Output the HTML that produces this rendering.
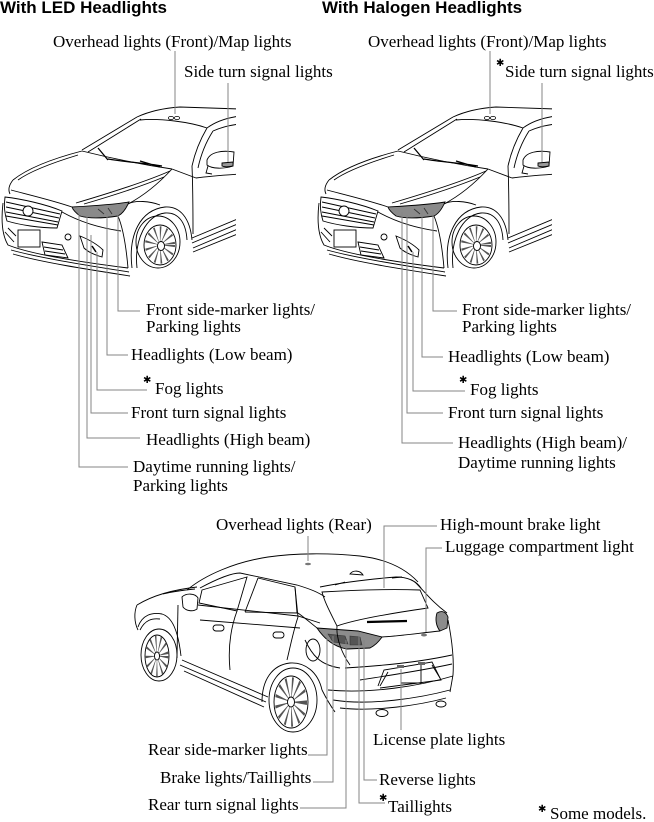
<!DOCTYPE html>
<html><head><meta charset="utf-8">
<style>
html,body{margin:0;padding:0;background:#fff;}
svg{display:block;}
.t{font-family:"Liberation Serif","Times New Roman",serif;font-size:17px;fill:#000;}
.h{font-family:"Liberation Sans",Arial,sans-serif;font-size:17px;font-weight:bold;fill:#000;}
.s{font-family:"DejaVu Sans",sans-serif;font-size:10px;fill:#000;}
.ld{stroke:#858585;stroke-width:1;fill:none;}
</style></head>
<body>
<svg width="654" height="822" viewBox="0 0 654 822" xmlns="http://www.w3.org/2000/svg">
<defs>
<clipPath id="cl"><rect x="0" y="90" width="236" height="200"/></clipPath>
<g id="fc">
 <g clip-path="url(#cl)" fill="none" stroke="#000" stroke-width="0.9">
  <!-- roof -->
  <path d="M137,117 C150,111 165,108 180,107 L240,109"/>
  <path d="M140,120 C160,118 190,122 207,128"/>
  <path d="M207,128 C215,122 225,118 240,116"/>
  <path d="M213,131 C222,127 230,125 240,124"/>
  <!-- A pillars -->
  <path d="M137,117 L82,150"/>
  <path d="M141,119 L88,152"/>
  <path d="M207,128 C200,140 195,152 192,166"/>
  <path d="M213,131 C206,142 201,154 198,168"/>
  <!-- cowl / wipers -->
  <path d="M82,151 C110,158 145,165 172,169"/>
  <path d="M98,148 L108,160 M108,159 C125,162 145,163 162,166 M140,161 L160,167" stroke-width="1.3"/>
  <!-- hood -->
  <path d="M82,151 C55,158 28,168 13,180"/>
  <path d="M78,155 C55,162 32,170 18,180"/>
  <path d="M13,180 C9,185 8,190 10,194"/>
  <path d="M11,190 C30,195 55,201 72,207"/>
  <path d="M170,171 C145,182 110,193 76,203"/>
  <path d="M164,177 C140,187 108,197 84,204"/>
  <path d="M172,169 C160,182 145,195 128,204"/>
  <!-- grille -->
  <path d="M5,197 C22,199 45,204 62,211 L57,228 C40,228 20,225 7,221 C4,212 4,204 5,197 Z"/>
  <path d="M6,202 L60,214 M6,207 L59,218 M6,212 L58,222 M6,216 L58,225"/>
  <circle cx="28" cy="211" r="5" fill="#fff"/>
  <!-- headlight -->
  <path d="M72,207 C90,206 110,205 129,202 C126,209 122,214 118,216 C105,218 90,219 80,216 C76,213 73,210 72,207 Z" fill="#8a8a8a"/>
  <path d="M98,209 L104,214 M108,208 L112,214" stroke="#333"/>
  <!-- bumper -->
  <path d="M3,203 C1,220 2,235 8,245 C30,254 80,262 128,268"/>
  <path d="M11,250 C40,258 85,265 129,272"/>
  <path d="M13,254 C40,262 85,269 130,276"/>
  <path d="M62,212 C80,222 100,228 121,231"/>
  <path d="M118,216 C123,228 126,245 128,268"/>
  <rect x="18" y="230" width="22" height="17"/>
  <path d="M8,228 L16,236 M5,232 L14,242"/>
  <path d="M42,242 L62,245 L68,258 L45,255 Z"/>
  <path d="M44,247 L63,250 M45,251 L65,254"/>
  <circle cx="68" cy="237" r="3"/>
  <path d="M80,236 C90,240 98,245 103,250 L102,257 C95,255 88,252 84,248 Z"/>
  <path d="M92,246 L96,252" stroke-width="1.5"/>
  <!-- fender arch -->
  <path d="M132,268 C128,235 140,210 165,207 C180,206 190,218 192,240"/>
  <path d="M137,268 C134,240 146,215 165,213 C178,212 186,222 187,240"/>
  <path d="M128,204 C135,200 150,201 160,205"/>
  <!-- wheel -->
  <ellipse cx="158" cy="242" rx="22" ry="26"/>
  <ellipse cx="160" cy="245" rx="16" ry="20"/>
  <g transform="translate(160,245) scale(1,1.25)">
   <circle r="7.5" stroke="#555" stroke-width="15" stroke-dasharray="0.9 2.6"/>
  </g>
  <ellipse cx="161" cy="246" rx="3.5" ry="4.5" fill="#fff"/>
  <!-- body side -->
  <path d="M192,238 L240,218 M192,243 L240,223 M193,248 L240,228 M193,252 L240,233"/>
  <path d="M192,166 C193,190 193,210 193,234"/>
  <path d="M196,178 C210,176 225,175 240,174"/>
  <path d="M172,169 C180,172 188,175 196,178"/>
  <!-- mirror -->
  <path d="M207,160 C210,152 222,150 234,152 L233,166 C224,169 212,169 207,165 Z" fill="#fff"/>
  <path d="M222,163 L233,162 L233,166 C228,167 224,167 222,166 Z" fill="#999"/>
  <path d="M208,166 L206,173 L212,174"/>
  <!-- overhead light -->
  <ellipse cx="171" cy="118" rx="2.6" ry="1.6" stroke-width="0.8"/>
  <ellipse cx="177" cy="118" rx="2.6" ry="1.6" stroke-width="0.8"/>
 </g>
</g>
</defs>

<!-- headings -->
<text class="h" x="0" y="13">With LED Headlights</text>
<text class="h" x="322" y="13">With Halogen Headlights</text>

<!-- front cars -->
<use href="#fc"/>
<use href="#fc" x="316"/>

<!-- LEFT labels -->
<text class="t" x="53" y="47">Overhead lights (Front)/Map lights</text>
<text class="t" x="184" y="77">Side turn signal lights</text>
<path class="ld" d="M175,51 V114 M228,83 V162"/>

<path class="ld" d="M118,210 V311 H140 M107,210 V355 H128 M97,252 V390 H147 M91,235 V413 H128 M87,215 V438 H140 M79,212 V467 H128"/>
<text class="t" x="146" y="315">Front side-marker lights/</text>
<text class="t" x="146" y="332">Parking lights</text>
<text class="t" x="131" y="360">Headlights (Low beam)</text>
<text class="s" x="143" y="383">✱</text>
<text class="t" x="155" y="394">Fog lights</text>
<text class="t" x="131" y="418">Front turn signal lights</text>
<text class="t" x="146" y="445">Headlights (High beam)</text>
<text class="t" x="133" y="472">Daytime running lights/</text>
<text class="t" x="133" y="491">Parking lights</text>

<!-- RIGHT labels -->
<text class="t" x="368" y="47">Overhead lights (Front)/Map lights</text>
<text class="s" x="496" y="66">✱</text>
<text class="t" x="505" y="77">Side turn signal lights</text>
<path class="ld" d="M490,51 V114 M542,83 V162"/>

<path class="ld" d="M433,210 V311 H457 M422,210 V357 H443 M413,252 V391 H465 M407,215 V413 H443 M402,212 V443 H453"/>
<text class="t" x="462" y="315">Front side-marker lights/</text>
<text class="t" x="462" y="332">Parking lights</text>
<text class="t" x="448" y="362">Headlights (Low beam)</text>
<text class="s" x="459" y="383">✱</text>
<text class="t" x="470" y="395">Fog lights</text>
<text class="t" x="448" y="418">Front turn signal lights</text>
<text class="t" x="458" y="448">Headlights (High beam)/</text>
<text class="t" x="458" y="468">Daytime running lights</text>

<!-- REAR car -->
<g fill="none" stroke="#000" stroke-width="0.9">
 <!-- roof -->
 <path d="M187,590 C205,575 235,562 268,557 C295,553 330,553 360,556 C385,559 405,568 418,582"/>
 <path d="M200,588 C215,580 230,573 240,573 L297,585 C310,589 318,592 325,597"/>
 <!-- spoiler & glass -->
 <path d="M320,587 C345,582 372,579 396,577 C408,577 416,581 421,588"/>
 <path d="M322,592 C355,590 390,589 420,590 L428,608 C400,612 360,618 337,626 C330,612 325,603 322,592 Z"/>
 <path d="M335,585 L345,582 M392,578 L402,577"/>
 <path d="M350,574 C353,570 360,570 363,575 Z" fill="#fff"/>
 <path d="M367,622 L407,621" stroke-width="2.2"/>
 <path d="M415,582 C425,592 432,602 447,613"/>
 <!-- tail lights -->
 <path d="M317,628 L358,631 L382,637 C378,643 374,646 370,648 L347,649 C335,647 325,640 317,628 Z" fill="#8c8c8c"/>
 <path d="M328,634 L345,636 L348,644 L333,642 Z M350,636 L360,637 L362,645 L350,645 Z" fill="#555" stroke="#333" stroke-width="0.6"/>
 <path d="M437,613 C442,610 446,612 448,617 L447,628 L440,631 C436,626 435,619 437,613 Z" fill="#8c8c8c"/>
 <path d="M382,637 C400,636 420,633 440,631"/>
 <!-- rear body -->
 <path d="M448,620 C452,640 454,660 453,675 L450,692"/>
 <path d="M298,613 C305,618 312,624 317,628"/>
 <path d="M337,626 C336,640 343,655 350,665"/>
 <path d="M345,668 C380,666 420,662 452,655"/>
 <path d="M360,680 C385,676 420,671 452,664"/>
 <path d="M378,686 L384,670 L432,662 L441,680 L380,688"/>
 <path d="M380,686 L388,672 M440,678 L432,665"/>
 <path d="M401,670 L401,683 L421,683 L421,665"/>
 <rect x="397" y="665" width="7" height="3" fill="#666" stroke="none"/>
 <rect x="418" y="662" width="7" height="3" fill="#666" stroke="none"/>
 <ellipse cx="424" cy="635" rx="3" ry="1.5" fill="#777" stroke="none"/>
 <path d="M328,690 C370,694 420,686 453,676"/>
 <path d="M333,700 C370,706 420,698 450,690"/>
 <path d="M340,708 C375,712 420,705 446,698"/>
 <ellipse cx="382" cy="713" rx="6" ry="3.5"/>
 <ellipse cx="441" cy="704" rx="5" ry="3"/>
 <path d="M305,640 C312,655 320,665 340,668"/>
 <path d="M322,690 C326,698 330,705 335,712"/>
 <!-- front (far) of car -->
 <path d="M137,605 C150,597 170,590 197,587"/>
 <path d="M163,594 C175,591 185,590 195,589"/>
 <path d="M137,605 C134,612 134,622 138,630"/>
 <path d="M138,627 C142,615 152,612 162,614 C172,617 178,630 181,656"/>
 <path d="M140,630 C145,620 152,618 160,619"/>
 <ellipse cx="159" cy="655" rx="18" ry="26"/>
 <ellipse cx="157" cy="656" rx="12" ry="21"/>
 <g transform="translate(157,656) scale(1,1.7)">
  <circle r="6" stroke="#555" stroke-width="12" stroke-dasharray="0.8 2.2"/>
 </g>
 <ellipse cx="157" cy="656" rx="2.5" ry="4" fill="#fff"/>
 <!-- mirror -->
 <path d="M182,597 C186,593 195,593 198,598 L197,609 C193,612 186,611 183,607 Z" fill="#fff"/>
 <!-- doors/windows -->
 <path d="M178,605 L177,658"/>
 <path d="M202,590 L247,577 L237,611 L199,603 Z"/>
 <path d="M258,578 L245,612"/>
 <path d="M258,578 L295,587 L297,613 L245,612"/>
 <path d="M237,611 C230,630 228,650 230,670"/>
 <path d="M295,587 L298,617 C293,632 290,648 287,660"/>
 <path d="M198,605 L298,616 L320,623"/>
 <path d="M200,620 L300,628"/>
 <rect x="213" y="625" width="11" height="6" rx="3"/>
 <rect x="273" y="632" width="11" height="6" rx="3"/>
 <ellipse cx="313" cy="650" rx="7" ry="11"/>
 <!-- sill -->
 <path d="M182,660 L268,697 M180,665 L266,702 M184,671 L264,707"/>
 <!-- rear wheel -->
 <path d="M262,702 C262,680 272,665 290,663 C305,662 318,672 322,690"/>
 <ellipse cx="293" cy="700" rx="24" ry="32"/>
 <ellipse cx="291" cy="702" rx="17" ry="26"/>
 <g transform="translate(291,702) scale(1,1.55)">
  <circle r="8" stroke="#555" stroke-width="16" stroke-dasharray="1 2.8"/>
 </g>
 <ellipse cx="291" cy="702" rx="3.5" ry="5" fill="#fff"/>
 <!-- overhead rear -->
 <ellipse cx="308" cy="564" rx="3" ry="1.3" fill="#777" stroke="none"/>
</g>

<!-- REAR labels -->
<text class="t" x="216" y="530">Overhead lights (Rear)</text>
<path class="ld" d="M308,536 V561"/>
<text class="t" x="440" y="530">High-mount brake light</text>
<path class="ld" d="M437,526 H384 V588"/>
<text class="t" x="445" y="552">Luggage compartment light</text>
<path class="ld" d="M442,548 H426 V632"/>
<text class="t" x="373" y="745">License plate lights</text>
<path class="ld" d="M401,669 V730"/>
<path class="ld" d="M327,634 V755 H308 M333,636 V782 H313 M346,640 V808 H300 M359,632 V803 H385 M364,640 V780 H377"/>
<text class="t" x="148" y="755">Rear side-marker lights</text>
<text class="t" x="160" y="783">Brake lights/Taillights</text>
<text class="t" x="148" y="810">Rear turn signal lights</text>
<text class="t" x="379" y="785">Reverse lights</text>
<text class="s" x="379" y="801">✱</text>
<text class="t" x="388" y="812">Taillights</text>
<text class="s" x="538" y="812">✱</text>
<text class="t" x="550" y="819">Some models.</text>
</svg>
</body></html>
